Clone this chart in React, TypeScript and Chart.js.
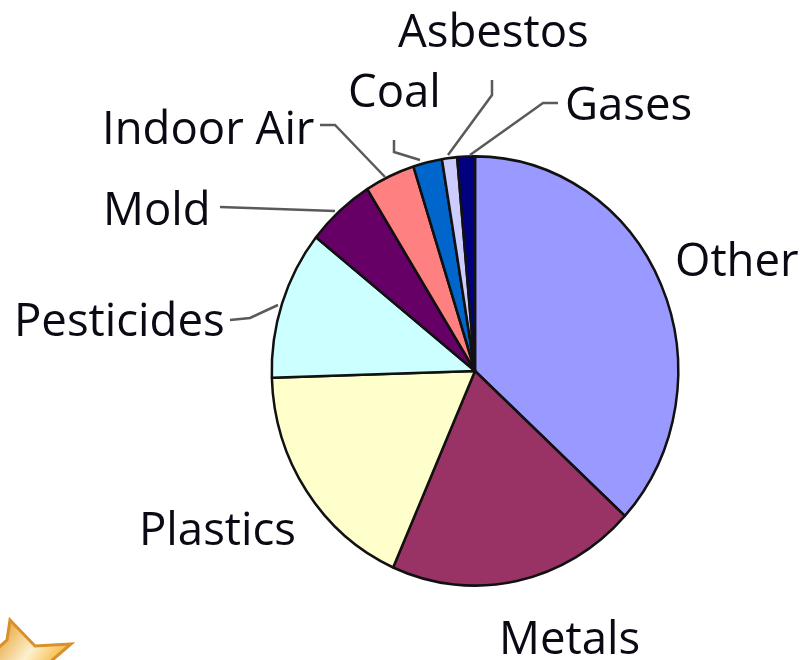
import React, { useEffect, useRef } from "react";
import { Chart, registerables } from "chart.js";

Chart.register(...registerables);

const categories = ["Other", "Metals", "Plastics", "Pesticides", "Mold", "Indoor Air", "Coal", "Asbestos", "Gases"];
const shares = [36.8, 19.8, 17.9, 11.2, 5.4, 4.0, 2.3, 1.2, 1.4];
const sliceColors = ["#9999FF", "#993366", "#FFFFCC", "#CCFFFF", "#660066", "#FF8080", "#0066CC", "#CCCCFF", "#000080"];

const labelPlacement: Record<string, [number, number]> = {
  Other: [675, 276],
  Metals: [499, 654],
  Plastics: [139, 545],
  Pesticides: [14, 336],
  Mold: [103, 225],
  "Indoor Air": [102, 144],
  Coal: [348, 107],
  Asbestos: [398, 47],
  Gases: [565, 120],
};

const leaders: [number, number][][] = [
  [[220, 207], [335, 211]],
  [[230, 320], [250, 318], [278, 305]],
  [[320, 125], [335, 125], [385, 177]],
  [[394, 140], [394, 152], [420, 160]],
  [[492, 80], [492, 95], [448, 155]],
  [[558, 103], [543, 103], [470, 155]],
];

const CY = 371;
const STRETCH = 216 / 204.5;

const ellipsePlugin = {
  id: "ellipse",
  beforeDatasetsDraw(chart: Chart) {
    const c = chart.ctx;
    c.save();
    c.translate(0, CY);
    c.scale(1, STRETCH);
    c.translate(0, -CY);
  },
  afterDatasetsDraw(chart: Chart) {
    chart.ctx.restore();
  },
};

const annotationPlugin = {
  id: "annotations",
  afterDraw(chart: Chart) {
    const c = chart.ctx;
    c.save();
    // leader lines
    c.strokeStyle = "#5a5a5a";
    c.lineWidth = 2.5;
    leaders.forEach((pts) => {
      c.beginPath();
      pts.forEach(([x, y], i) => (i ? c.lineTo(x, y) : c.moveTo(x, y)));
      c.stroke();
    });
    // labels
    c.fillStyle = "#0a0a14";
    c.font = '45.5px "Open Sans"';
    c.textBaseline = "alphabetic";
    c.textAlign = "left";
    (chart.data.labels as string[]).forEach((name) => {
      const [x, y] = labelPlacement[name];
      c.fillText(name, x, y);
    });
    // star ornament in the corner
    const g = c.createLinearGradient(0, 618, 60, 660);
    g.addColorStop(0, "#E39A1F");
    g.addColorStop(0.6, "#FDF0CF");
    g.addColorStop(1, "#F5B93E");
    c.fillStyle = g;
    c.strokeStyle = "#D9902A";
    c.lineWidth = 3;
    c.beginPath();
    c.moveTo(10, 620);
    c.lineTo(35, 646);
    c.lineTo(71, 644);
    c.lineTo(50, 662);
    c.lineTo(-2, 662);
    c.lineTo(-2, 648);
    c.lineTo(7, 640);
    c.closePath();
    c.fill();
    c.stroke();
    c.restore();
  },
};

export default function App() {
  const ref = useRef<HTMLCanvasElement>(null);
  useEffect(() => {
    document.body.style.margin = "0";
    const chart = new Chart(ref.current!, {
      type: "pie",
      data: {
        labels: categories,
        datasets: [
          {
            data: shares,
            backgroundColor: sliceColors,
            borderColor: "#111111",
            borderWidth: 2.5,
          },
        ],
      },
      options: {
        animation: false,
        responsive: false,
        layout: { padding: { left: 270.5, right: 120.5, top: 166.5, bottom: 84.5 } },
        plugins: { legend: { display: false }, tooltip: { enabled: false } },
      },
      plugins: [ellipsePlugin, annotationPlugin],
    });
    return () => chart.destroy();
  }, []);
  return <canvas ref={ref} width={800} height={660} style={{ display: "block" }} />;
}
